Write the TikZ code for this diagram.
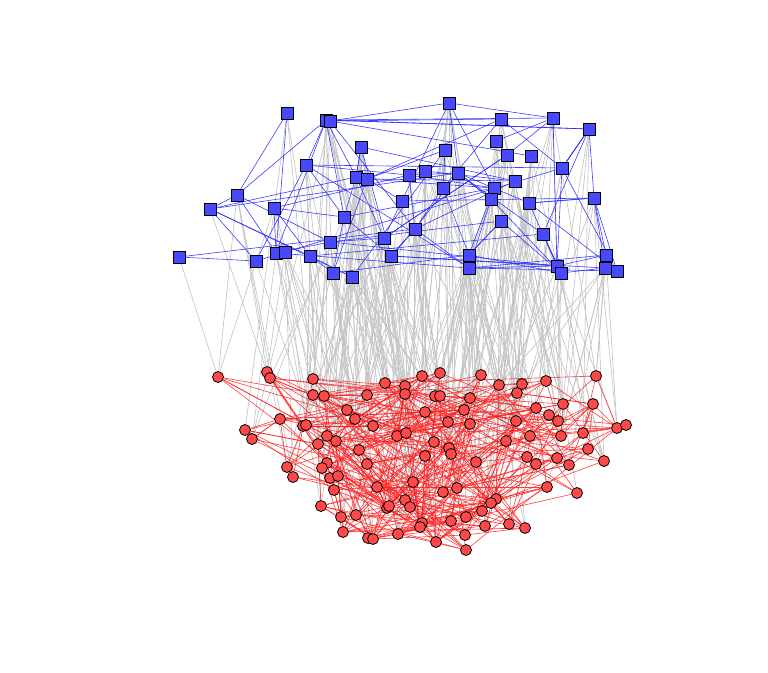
\documentclass[tikz,border=0pt]{standalone}
\pgfdeclarelayer{background}
\pgfsetlayers{background,main}
\definecolor{bfill}{RGB}{72,72,255}
\definecolor{rfill}{RGB}{255,72,72}
\definecolor{bline}{RGB}{40,40,255}
\definecolor{rline}{RGB}{255,30,30}
\definecolor{gline}{RGB}{196,196,196}
\begin{document}
\begin{tikzpicture}[x=1pt,y=-1pt,
  bsq/.style={rectangle,draw=black,fill=bfill,line width=0.8pt,minimum size=12pt,inner sep=0pt},
  rci/.style={circle,draw=black,fill=rfill,line width=0.8pt,minimum size=11pt,inner sep=0pt},
  bedge/.style={draw=bline,line width=0.6pt,opacity=0.9},
  redge/.style={draw=rline,line width=0.6pt,opacity=0.85},
  gedge/.style={draw=gline,line width=0.65pt}]
\useasboundingbox (0,0) rectangle (768,672);
\foreach \x/\y [count=\i] in {287/113,326/120,330/121,361/147,306/165,356/177,367/179,237/195,210/209,274/208,
  344/217,384/238,330/242,179/257,256/261,276/253,285/252,310/256,333/273,352/277,
  391/256,449/103,501/119,553/118,589/129,496/141,445/150,507/155,531/156,562/168,
  409/175,425/171,458/173,443/188,494/188,515/181,491/199,529/203,594/198,402/201,
  501/221,415/229,543/234,469/255,469/268,557/266,561/273,606/255,605/268,617/271}
  \node[bsq] (b\i) at (\x,\y) {};
\foreach \x/\y [count=\i] in {218/377,267/372,270/378,313/379,385/383,405/386,313/395,324/396,367/395,405/394,
  347/410,280/419,355/419,373/426,303/426,306/425,245/430,252/439,327/436,336/441,
  318/444,397/436,406/433,359/450,367/464,327/463,322/468,287/467,293/477,330/478,
  338/476,334/490,377/487,413/482,405/500,410/507,387/508,389/506,321/506,341/517,
  356/515,343/532,368/538,373/539,398/534,422/376,440/373,481/375,499/385,522/384,
  517/393,546/381,596/376,435/396,440/396,470/398,563/404,593/404,536/408,464/410,
  425/412,549/415,558/421,448/422,470/424,516/421,617/428,626/425,583/433,561/436,
  530/436,434/442,506/441,588/449,449/448,451/454,425/456,476/462,527/457,536/464,
  557/458,569/465,604/461,457/488,443/492,547/487,577/493,496/499,491/503,482/511,
  466/517,451/521,422/523,420/527,485/526,509/524,525/528,465/535,436/542,466/550}
  \node[rci] (r\i) at (\x,\y) {};
\begin{pgfonlayer}{background}
% grey links between the two groups
\pgfmathsetseed{11}
\foreach \k in {1,...,800}{
  \pgfmathrandominteger{\i}{1}{50}
  \pgfmathrandominteger{\j}{1}{100}
  \path (b\i); \pgfgetlastxy{\xa}{\ya}
  \path (r\j); \pgfgetlastxy{\xb}{\yb}
  \pgfmathtruncatemacro\ok{abs(\xa-\xb) < 30+90*rnd}
  \ifnum\ok=1 \draw[gedge] (b\i) -- (r\j); \fi
}
% red links
\pgfmathsetseed{5}
\foreach \k in {1,...,680}{
  \pgfmathrandominteger{\i}{1}{100}
  \pgfmathrandominteger{\j}{1}{100}
  \path (r\i); \pgfgetlastxy{\xa}{\ya}
  \path (r\j); \pgfgetlastxy{\xb}{\yb}
  \pgfmathtruncatemacro\ok{and(\i!=\j, veclen(\xa-\xb,\ya-\yb) < 30+250*rnd)}
  \ifnum\ok=1 \draw[redge] (r\i) -- (r\j); \fi
}
% blue links
\foreach \a/\b in {1/8,2/8,2/5,2/16,2/11,2/6,8/9,8/13,9/15,9/18,14/15,10/16,10/11,10/18,5/15,5/11,5/31,
  4/6,6/11,6/12,11/19,13/16,12/13,18/19,22/24,22/3,22/33,22/35,24/28,24/26,24/46,25/30,25/39,2/25,
  39/48,39/49,30/46,43/47,34/44,34/42,27/34,5/30,35/44,37/45,41/44,38/46,36/42,21/42,44/47,45/46,
  45/50,21/46,46/48,47/49,12/28,3/23,3/29}
  \draw[bedge] (b\a) -- (b\b);
\pgfmathsetseed{3}
\foreach \k in {1,...,90}{
  \pgfmathrandominteger{\i}{1}{50}
  \pgfmathrandominteger{\j}{1}{50}
  \path (b\i); \pgfgetlastxy{\xa}{\ya}
  \path (b\j); \pgfgetlastxy{\xb}{\yb}
  \pgfmathtruncatemacro\ok{and(\i!=\j, veclen(\xa-\xb,\ya-\yb) < 60+280*rnd)}
  \ifnum\ok=1 \draw[bedge] (b\i) -- (b\j); \fi
}
\end{pgfonlayer}
\end{tikzpicture}
\end{document}
